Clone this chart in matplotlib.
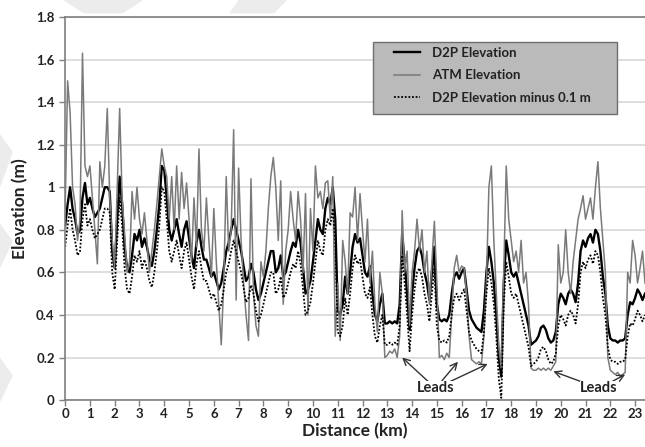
"""
D2P vs ATM elevation profile along the track, with lead sections marked.
"""

import matplotlib

matplotlib.use("Agg")
import matplotlib.pyplot as plt
import numpy as np
from matplotlib.patches import Polygon, Rectangle

plt.rcParams["font.family"] = ["Lato", "DejaVu Sans"]
plt.rcParams["font.weight"] = "bold"

# Sample spacing along the track (km)
STEP_KM = 0.1

# D2P elevation (m), one value every 0.1 km from 0 km
d2p_elevation = [
    0.82, 0.92, 1.00, 0.90, 0.85, 0.78, 0.80, 0.95, 1.02, 0.92,
    0.95, 0.90, 0.86, 0.88, 0.90, 0.95, 1.00, 1.00, 0.98, 0.70,
    0.62, 0.85, 1.05, 0.92, 0.72, 0.62, 0.60, 0.68, 0.78, 0.75,
    0.80, 0.72, 0.76, 0.72, 0.66, 0.63, 0.70, 0.80, 0.92, 1.10,
    1.08, 0.95, 0.80, 0.75, 0.80, 0.85, 0.78, 0.72, 0.80, 0.84,
    0.76, 0.68, 0.62, 0.74, 0.80, 0.72, 0.66, 0.66, 0.62, 0.58,
    0.60, 0.56, 0.52, 0.55, 0.62, 0.70, 0.74, 0.80, 0.85, 0.80,
    0.75, 0.70, 0.63, 0.56, 0.58, 0.64, 0.60, 0.52, 0.47, 0.50,
    0.55, 0.60, 0.65, 0.70, 0.70, 0.60, 0.62, 0.68, 0.58, 0.60,
    0.65, 0.70, 0.74, 0.72, 0.80, 0.74, 0.62, 0.50, 0.52, 0.56,
    0.65, 0.75, 0.85, 0.80, 0.78, 0.90, 0.95, 0.92, 1.00, 0.85,
    0.42, 0.40, 0.45, 0.58, 0.50, 0.60, 0.72, 0.78, 0.74, 0.76,
    0.68, 0.60, 0.58, 0.63, 0.50, 0.40, 0.37, 0.45, 0.50, 0.36,
    0.36, 0.37, 0.36, 0.37, 0.36, 0.45, 0.78, 0.65, 0.50, 0.33,
    0.50, 0.62, 0.70, 0.72, 0.68, 0.60, 0.55, 0.47, 0.60, 0.72,
    0.45, 0.38, 0.37, 0.38, 0.37, 0.40, 0.50, 0.58, 0.60, 0.57,
    0.60, 0.62, 0.52, 0.42, 0.38, 0.36, 0.34, 0.33, 0.32, 0.42,
    0.60, 0.72, 0.65, 0.55, 0.40, 0.20, 0.11, 0.55, 0.75, 0.68,
    0.60, 0.58, 0.60, 0.55, 0.50, 0.45, 0.40, 0.35, 0.26, 0.27,
    0.28, 0.30, 0.34, 0.35, 0.33, 0.29, 0.27, 0.28, 0.32, 0.45,
    0.50, 0.48, 0.45, 0.50, 0.52, 0.50, 0.46, 0.55, 0.70, 0.75,
    0.72, 0.76, 0.78, 0.74, 0.80, 0.78, 0.70, 0.58, 0.50, 0.35,
    0.29, 0.28, 0.28, 0.27, 0.28, 0.28, 0.29, 0.40, 0.46, 0.45,
    0.48, 0.52, 0.50, 0.47, 0.50,
]

# ATM elevation (m), same sampling
atm_elevation = [
    0.90, 1.50, 1.35, 1.00, 0.92, 0.75, 0.85, 1.63, 1.10, 1.05,
    1.10, 0.95, 0.80, 0.64, 1.12, 1.00, 1.10, 1.37, 0.95, 0.75,
    0.62, 1.00, 1.37, 0.95, 0.78, 0.60, 0.65, 0.98, 0.85, 1.00,
    0.85, 0.78, 0.88, 0.75, 0.60, 0.70, 0.80, 0.92, 1.05, 1.18,
    1.10, 1.05, 0.85, 1.05, 0.80, 1.10, 0.85, 1.07, 0.90, 1.02,
    0.85, 0.65, 0.95, 0.72, 1.18, 0.80, 0.70, 0.95, 0.75, 0.58,
    0.90, 0.65, 0.45, 0.26, 0.55, 1.05, 0.70, 0.80, 1.27, 0.47,
    1.09, 0.75, 0.55, 0.40, 0.28, 1.04, 0.50, 0.35, 0.30, 0.65,
    0.58, 0.70, 0.90, 1.05, 1.14, 1.00, 0.75, 1.03, 0.45, 0.70,
    0.80, 0.98, 0.85, 0.75, 0.98, 0.85, 0.60, 0.97, 0.40, 0.90,
    0.70, 1.10, 0.95, 0.98, 0.90, 1.02, 1.03, 0.85, 1.05, 0.30,
    0.55, 0.28, 0.75, 0.65, 0.50, 0.88, 0.86, 1.00, 0.75, 0.97,
    0.80, 0.65, 0.85, 0.55, 0.70, 0.45, 0.32, 0.60, 0.50, 0.20,
    0.21, 0.23, 0.22, 0.24, 0.20, 0.30, 0.89, 0.60, 0.70, 0.35,
    0.60, 0.70, 0.85, 0.70, 0.80, 0.60, 0.70, 0.45, 0.65, 0.84,
    0.55, 0.20, 0.21, 0.19, 0.22, 0.20, 0.40, 0.62, 0.68, 0.60,
    0.63, 0.62, 0.50, 0.30, 0.19, 0.18, 0.17, 0.18, 0.17, 0.30,
    0.55, 1.00, 1.10, 0.75, 0.50, 0.25, 0.15, 0.60, 1.10, 0.85,
    0.75, 0.65, 0.70, 0.60, 0.75, 0.55, 0.60, 0.45, 0.15, 0.14,
    0.14, 0.15, 0.14, 0.15, 0.14, 0.15, 0.14, 0.16, 0.18, 0.73,
    0.55, 0.60, 0.80, 0.60, 0.50, 0.65, 0.75, 0.85, 0.90, 0.96,
    0.85, 0.90, 0.95, 0.85, 1.00, 1.12, 0.90, 0.75, 0.60, 0.20,
    0.14, 0.13, 0.12, 0.13, 0.11, 0.12, 0.13, 0.60, 0.55, 0.75,
    0.68, 0.55, 0.62, 0.70, 0.55,
]

D2P_OFFSET = 0.1  # m

y_ticks = [0, 0.2, 0.4, 0.6, 0.8, 1.0, 1.2, 1.4, 1.6, 1.8]
y_tick_labels = ["0", "0.2", "0.4", "0.6", "0.8", "1", "1.2", "1.4", "1.6", "1.8"]
x_ticks = list(range(0, 24))

# "Leads" labels: text position and the lead segments they point at (km, m)
leads_left_text = (14.95, 0.055)
leads_left_targets = [(13.6, 0.20), (15.85, 0.18), (17.05, 0.17)]
leads_right_text = (21.55, 0.055)
leads_right_targets = [(19.7, 0.135), (22.6, 0.12)]

distance_km = np.arange(len(d2p_elevation)) * STEP_KM
d2p = np.array(d2p_elevation)
atm = np.array(atm_elevation)

fig = plt.figure(figsize=(6.45, 4.47), dpi=100)

# faint background watermark shapes
for pts in [
    [(0.098, 1.0), (0.222, 1.0), (0.19, 0.97), (0.13, 0.97)],
    [(0.37, 1.0), (0.445, 1.0), (0.425, 0.97), (0.355, 0.97)],
    [(0.0, 0.70), (0.02, 0.66), (0.0, 0.58)],
    [(0.0, 0.50), (0.02, 0.46), (0.0, 0.40)],
    [(0.0, 0.20), (0.02, 0.16), (0.0, 0.10)],
]:
    fig.patches.append(
        Polygon(pts, closed=True, transform=fig.transFigure,
                facecolor="#ececec", edgecolor="none", zorder=0)
    )

ax = fig.add_axes([0.101, 0.105, 0.899, 0.857])
ax.patch.set_alpha(0)

ax.plot(distance_km, d2p, color="black", linewidth=1.7, label="D2P Elevation")
ax.plot(distance_km, atm, color="#7a7a7a", linewidth=1.1, label="ATM Elevation")
ax.plot(distance_km, d2p - D2P_OFFSET, color="black", linewidth=1.3,
        linestyle=(0, (1, 1)), label="D2P Elevation minus 0.1 m")

ax.set_xlim(0, 23.4)
ax.set_ylim(0, 1.8)
ax.set_yticks(y_ticks)
ax.set_yticklabels(y_tick_labels)
ax.set_xticks(x_ticks)
ax.yaxis.grid(True, color="#d4d4d4", linewidth=1.1)
ax.set_axisbelow(True)

for side in ["left", "bottom", "top"]:
    ax.spines[side].set_color("#7f7f7f")
    ax.spines[side].set_linewidth(1.2)
ax.spines["right"].set_visible(False)
ax.tick_params(axis="both", direction="out", length=4, width=1.0,
               color="#7f7f7f", labelsize=9.5, labelcolor="#222222")
ax.tick_params(axis="x", pad=2)

ax.set_xlabel("Distance (km)", fontsize=12.5, fontweight="bold",
              color="#222222", labelpad=2)
ax.set_ylabel("Elevation (m)", fontsize=12.5, fontweight="bold",
              color="#222222", labelpad=6)

# legend box drawn separately so it can carry the wide right margin
ax.add_patch(Rectangle((0.531, 0.747), 0.421, 0.188, transform=ax.transAxes,
                       facecolor="#bababa", edgecolor="#6e6e6e",
                       linewidth=1.0, zorder=4))
leg = ax.legend(loc="upper left", bbox_to_anchor=(0.567, 0.922),
                fontsize=9.5, frameon=False, handlelength=2.0,
                borderpad=0, labelspacing=0.8, handletextpad=0.9,
                borderaxespad=0)
leg.set_zorder(5)
for txt in leg.get_texts():
    txt.set_color("#222222")

arrow_style = dict(arrowstyle="->", color="#333333", linewidth=1.0,
                   shrinkA=7, shrinkB=0, mutation_scale=12)
for text_pos, targets in [(leads_left_text, leads_left_targets),
                          (leads_right_text, leads_right_targets)]:
    for tx, ty in targets:
        ax.annotate("", xy=(tx, ty), xytext=text_pos, arrowprops=arrow_style)
    ax.text(text_pos[0], text_pos[1], "Leads", fontsize=10.5, fontweight="bold",
            color="#222222", ha="center", va="center",
            bbox=dict(facecolor="white", edgecolor="none", pad=0.5))

fig.savefig("out.png", dpi=100)
